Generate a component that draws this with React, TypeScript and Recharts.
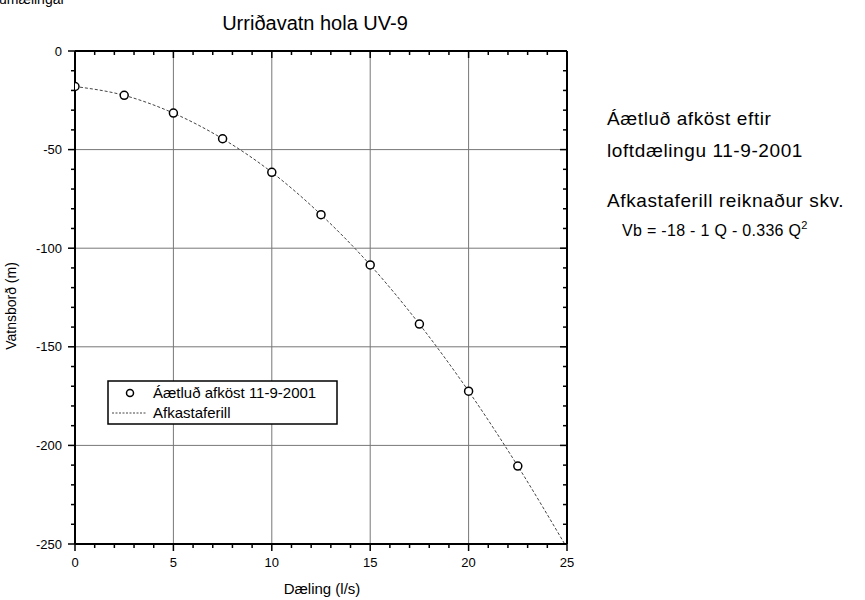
import React from "react";
import {
  ComposedChart,
  Line,
  Scatter,
  XAxis,
  YAxis,
  CartesianGrid,
  Legend,
} from "recharts";

// mælipunktar (Q í l/s, vatnsborð í m)
const flowRate = [0, 2.5, 5, 7.5, 10, 12.5, 15, 17.5, 20, 22.5];
const waterLevel = [-18, -22.5, -31.5, -44.5, -61.5, -83, -108.5, -138.5, -172.5, -210.5];

// afkastaferill lesinn af myndinni
const curveFlow = [0, 2.5, 5, 7.5, 10, 12.5, 15, 17.5, 20, 22.5, 25];
const curveLevel = [-18, -22.5, -31.5, -44.5, -61.5, -83, -108.5, -138.5, -172.5, -210.5, -252];

const xMajorTicks = [0, 5, 10, 15, 20, 25];
const xMinorTicks = [0, 1, 2, 3, 4, 5, 6, 7, 8, 9, 10, 11, 12, 13, 14, 15, 16, 17, 18, 19, 20, 21, 22, 23, 24, 25];
const yMajorTicks = [0, -50, -100, -150, -200, -250];
const yMinorTicks = [
  0, -10, -20, -30, -40, -50, -60, -70, -80, -90, -100, -110, -120, -130, -140, -150,
  -160, -170, -180, -190, -200, -210, -220, -230, -240, -250,
];

const pointData = flowRate.map((q, i) => ({ q, vb: waterLevel[i] }));
const curveData = curveFlow.map((q, i) => ({ q, vb: curveLevel[i] }));

const FONT = '"Liberation Sans", Arial, Helvetica, sans-serif';
const frame = { stroke: "#000", strokeWidth: 2 };

// one tick renderer per side: long tick + label on majors, short tick on minors
const makeTick = (side: "bottom" | "top" | "left" | "right", majors: number[]) =>
  (props: any) => {
    const { x, y, payload } = props;
    const major = majors.includes(payload.value);
    const len = major ? 7 : 4;
    if (side === "bottom") {
      return (
        <g>
          <line x1={x} y1={y} x2={x} y2={y + len} stroke="#000" strokeWidth={1.5} />
          {major && (
            <text x={x} y={y + 23} textAnchor="middle" fontSize={13} fill="#000" fontFamily={FONT}>
              {payload.value}
            </text>
          )}
        </g>
      );
    }
    if (side === "left") {
      return (
        <g>
          <line x1={x} y1={y} x2={x - len} y2={y} stroke="#000" strokeWidth={1.5} />
          {major && (
            <text x={x - 13} y={y + 4.5} textAnchor="end" fontSize={13} fill="#000" fontFamily={FONT}>
              {payload.value}
            </text>
          )}
        </g>
      );
    }
    if (side === "top") {
      return <line x1={x} y1={y} x2={x} y2={y + len} stroke="#000" strokeWidth={1.5} />;
    }
    return <line x1={x} y1={y} x2={x - len} y2={y} stroke="#000" strokeWidth={1.5} />;
  };

const OpenCircle = (props: any) => (
  <circle cx={props.cx} cy={props.cy} r={4} fill="#fff" stroke="#000" strokeWidth={1.5} />
);

const renderLegend = () => (
  <svg width={231} height={45} style={{ display: "block", fontFamily: FONT }}>
    <rect x={1} y={1} width={229} height={43} fill="#fff" stroke="#000" strokeWidth={1.5} />
    <circle cx={23} cy={13} r={3.5} fill="#fff" stroke="#000" strokeWidth={1.5} />
    <text x={46} y={18} fontSize={15} fill="#000">Áætluð afköst 11-9-2001</text>
    <line x1={5} y1={33} x2={40} y2={33} stroke="#444" strokeDasharray="2 1.5" />
    <text x={46} y={38} fontSize={15} fill="#000">Afkastaferill</text>
  </svg>
);

export default function App() {
  return (
    <div style={{ position: "absolute", left: 0, top: 0, fontFamily: FONT }}>
      <ComposedChart
        width={865}
        height={600}
        margin={{ top: 51, right: 298, bottom: 55, left: 74 }}
        style={{ fontFamily: FONT }}
      >
        <CartesianGrid xAxisId="b" yAxisId="l" stroke="#777" strokeWidth={1}
          verticalValues={xMajorTicks} horizontalValues={yMajorTicks} />

        <XAxis xAxisId="b" type="number" dataKey="q" domain={[0, 25]} allowDataOverflow
          ticks={xMinorTicks} interval={0} height={1} tickSize={0} tickMargin={0}
          axisLine={frame} tickLine={false} tick={makeTick("bottom", xMajorTicks)} />
        <XAxis xAxisId="t" orientation="top" mirror type="number" dataKey="q" domain={[0, 25]} allowDataOverflow
          ticks={xMinorTicks} interval={0} height={1} tickSize={0} tickMargin={0}
          axisLine={frame} tickLine={false} tick={makeTick("top", xMajorTicks)} />

        <YAxis yAxisId="l" type="number" dataKey="vb" domain={[-250, 0]} allowDataOverflow
          ticks={yMinorTicks} interval={0} width={1} tickSize={0} tickMargin={0}
          axisLine={frame} tickLine={false} tick={makeTick("left", yMajorTicks)} />
        <YAxis yAxisId="r" orientation="right" mirror type="number" dataKey="vb" domain={[-250, 0]} allowDataOverflow
          ticks={yMinorTicks} interval={0} width={1} tickSize={0} tickMargin={0}
          axisLine={frame} tickLine={false} tick={makeTick("right", yMajorTicks)} />

        <Line xAxisId="b" yAxisId="l" data={curveData} dataKey="vb" type="monotone"
          stroke="#444" strokeWidth={1} strokeDasharray="3 2" dot={false}
          isAnimationActive={false} legendType="none" />
        <Scatter xAxisId="b" yAxisId="l" data={pointData} dataKey="vb"
          shape={OpenCircle} isAnimationActive={false} />

        <Legend layout="vertical" verticalAlign="middle" align="center"
          wrapperStyle={{ left: 107, top: 380, width: 231, height: 45 }}
          content={renderLegend} />

        <text x={-1} y={4} fontSize={14} fill="#000" fontFamily={FONT}>umælingar</text>
        <text x={315} y={30} fontSize={20} textAnchor="middle" fill="#000" fontFamily={FONT}>
          Urriðavatn hola UV-9
        </text>
        <text x={322} y={594} fontSize={15} textAnchor="middle" fill="#000" fontFamily={FONT}>
          Dæling (l/s)
        </text>
        <text x={16} y={306} fontSize={14} textAnchor="middle" fill="#000" fontFamily={FONT}
          transform="rotate(-90 16 306)">
          Vatnsborð (m)
        </text>

        <text x={607} y={125} fontSize={19} fill="#000" fontFamily={FONT} letterSpacing={0.6}>
          Áætluð afköst eftir
        </text>
        <text x={607} y={157} fontSize={19} fill="#000" fontFamily={FONT} letterSpacing={0.6}>
          loftdælingu 11-9-2001
        </text>
        <text x={607} y={207} fontSize={19} fill="#000" fontFamily={FONT} letterSpacing={0.6}>
          Afkastaferill reiknaður skv.
        </text>
        <text x={622} y={236} fontSize={16} fill="#000" fontFamily={FONT} letterSpacing={0.3}>
          Vb = -18 - 1 Q - 0.336 Q
          <tspan fontSize={11} dy={-7}>2</tspan>
        </text>
      </ComposedChart>
    </div>
  );
}
